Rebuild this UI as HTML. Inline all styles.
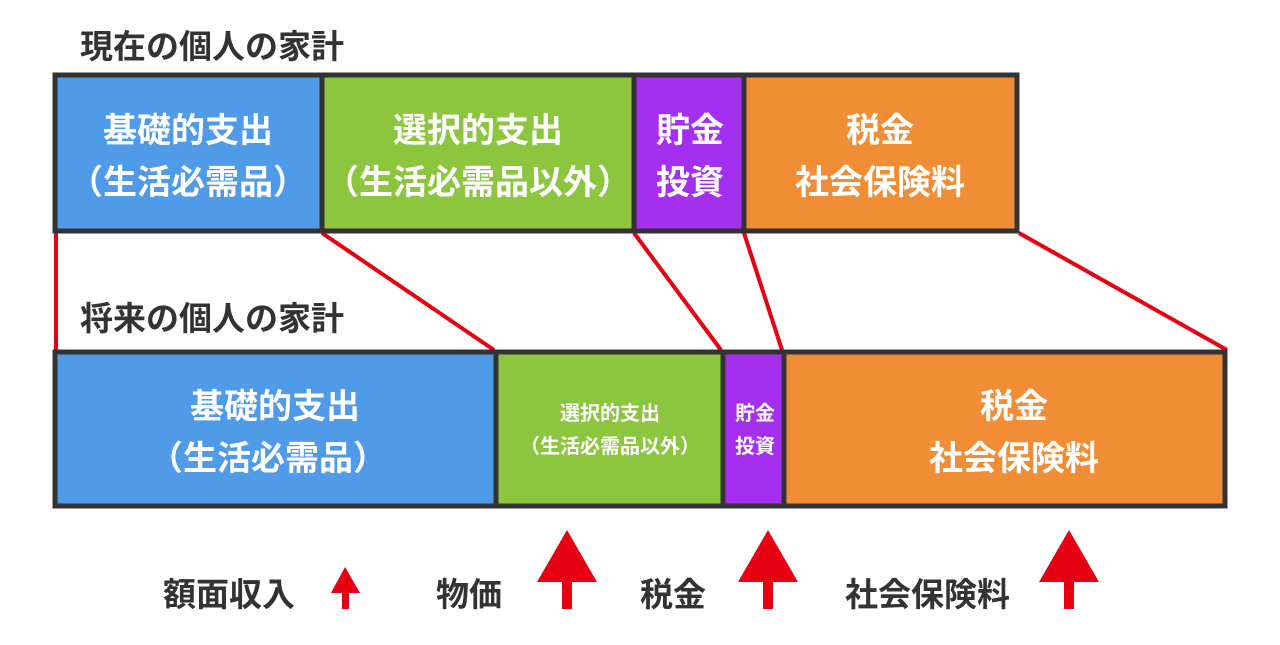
<!DOCTYPE html>
<html><head><meta charset="utf-8"><style>
body{margin:0;background:#fff;width:1280px;height:640px;overflow:hidden}
svg text{font-family:"Liberation Sans","Noto Sans CJK JP",sans-serif;font-weight:bold}
</style></head><body>
<svg width="1280" height="640" viewBox="0 0 1280 640">
<g fill="#333" font-size="33">
<text x="80" y="58">現在の個人の家計</text>
<text x="80" y="330">将来の個人の家計</text>
</g>
<g stroke="#e60012" stroke-width="4">
<line x1="56" y1="233" x2="56" y2="350"/>
<line x1="322" y1="233" x2="494" y2="350"/>
<line x1="634" y1="233" x2="721" y2="350"/>
<line x1="744" y1="233" x2="782" y2="350"/>
<line x1="1019" y1="233" x2="1227" y2="350"/>
</g>
<g stroke="#333" stroke-width="5">
<rect x="55" y="75" width="267" height="156" fill="#4f9be8"/>
<rect x="322" y="75" width="312" height="156" fill="#8cc63f"/>
<rect x="634" y="75" width="110" height="156" fill="#a52ff0"/>
<rect x="744" y="75" width="273" height="156" fill="#f18d35"/>
<rect x="55" y="352" width="441" height="154" fill="#4f9be8"/>
<rect x="496" y="352" width="227" height="154" fill="#8cc63f"/>
<rect x="723" y="352" width="61" height="154" fill="#a52ff0"/>
<rect x="784" y="352" width="441" height="154" fill="#f18d35"/>
</g>
<g fill="#fff" text-anchor="middle" font-size="34">
<text x="188" y="142">基礎的支出</text>
<text x="188" y="194">（生活必需品）</text>
<text x="478" y="142">選択的支出</text>
<text x="478" y="194">（生活必需品以外）</text>
<text x="690" y="142">貯金</text>
<text x="690" y="194">投資</text>
<text x="880" y="142">税金</text>
<text x="880" y="194">社会保険料</text>
<text x="275" y="418">基礎的支出</text>
<text x="268" y="470">（生活必需品）</text>
<text x="1014" y="418">税金</text>
<text x="1014" y="470">社会保険料</text>
</g>
<g fill="#fff" text-anchor="middle" font-size="20">
<text x="610" y="420">選択的支出</text>
<text x="610" y="453">（生活必需品以外）</text>
<text x="755" y="420">貯金</text>
<text x="755" y="453">投資</text>
</g>
<g fill="#333" font-size="33">
<text x="163" y="606">額面収入</text>
<text x="436" y="606">物価</text>
<text x="640" y="606">税金</text>
<text x="845" y="606">社会保険料</text>
</g>
<g fill="#e60012">
<polygon points="345,567 360,593 349,593 349,609 342,609 342,593 331,593"/>
<polygon points="567,530 597,582 572,582 572,609 562,609 562,582 537,582"/>
<polygon points="768,530 798,582 773,582 773,609 763,609 763,582 738,582"/>
<polygon points="1069,530 1099,582 1074,582 1074,609 1064,609 1064,582 1039,582"/>
</g>
</svg>
</body></html>
